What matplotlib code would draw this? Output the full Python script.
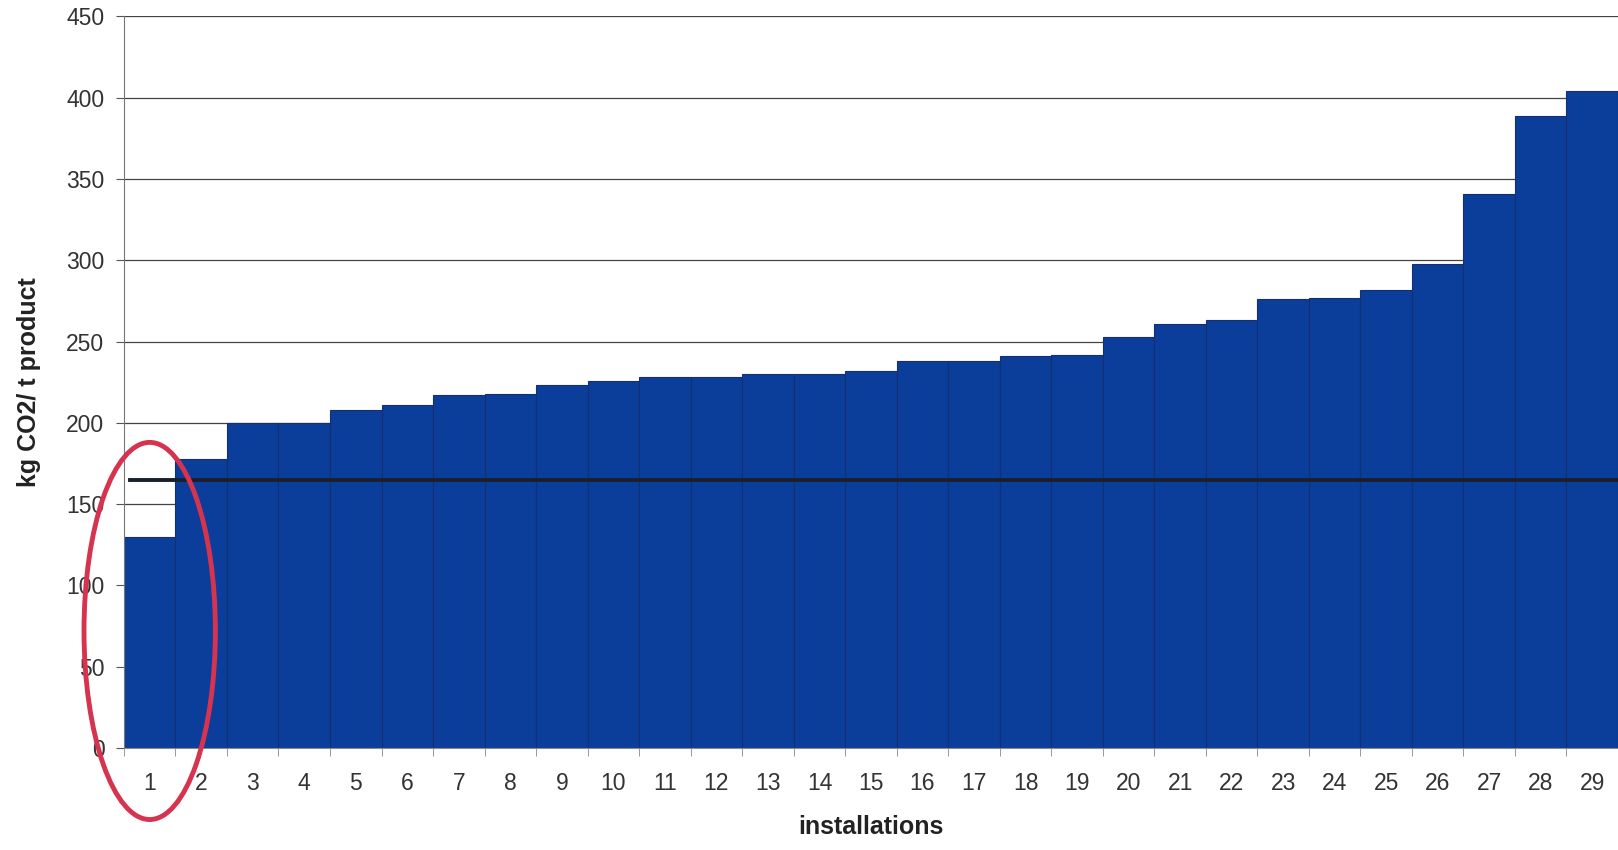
import numpy as np
import matplotlib.pyplot as plt
from matplotlib.patches import Ellipse

plt.rcParams['font.family'] = ['Liberation Sans', 'DejaVu Sans']

installations = list(range(1, 30))
emissions = [130, 178, 200, 200, 208, 211, 217, 218, 223, 226,
             228, 228, 230, 230, 232, 238, 238, 241, 242, 253,
             261, 263, 276, 277, 282, 298, 341, 389, 404]
benchmark = 165
y_ticks = [0, 50, 100, 150, 200, 250, 300, 350, 400, 450]

fig = plt.figure(figsize=(16.18, 8.5), dpi=100)
ax = fig.add_axes([0.0766, 0.12, 0.9234, 0.8606])

ax.bar(installations, emissions, width=1.0, color='#0b3d9a',
       edgecolor='#14306e', linewidth=0.8, zorder=2)

# benchmark line across all installations
ax.axhline(benchmark, xmin=0.004, xmax=1.0, color='#1a1f2e', linewidth=2.8, zorder=3)

ax.set_xlim(0.5, 29.5)
ax.set_ylim(0, 450)
ax.set_yticks(y_ticks)
ax.yaxis.grid(True, color='#444444', linewidth=0.9, zorder=0)
ax.set_axisbelow(True)

ax.set_xticks(installations)
ax.set_xticks(np.arange(0.5, 30, 1.0), minor=True)
ax.tick_params(axis='x', which='major', length=0, pad=17, labelsize=16.5, labelcolor='#333333')
ax.tick_params(axis='x', which='minor', length=6, color='#888888', direction='out')
ax.tick_params(axis='y', length=6, color='#555555', labelsize=16.5, labelcolor='#333333', pad=8)

for side in ['top', 'right']:
    ax.spines[side].set_visible(False)
ax.spines['left'].set_color('#777777')
ax.spines['bottom'].set_color('#888888')

ax.set_ylabel('kg CO2/ t product', fontsize=18, fontweight='bold', labelpad=18, color='#222222')
ax.set_xlabel('installations', fontsize=18, fontweight='bold', labelpad=15, color='#222222')

# highlight the first installation
ring = Ellipse((1.0, 72), width=2.55, height=232, fill=False,
               edgecolor='#d6334f', linewidth=3.5, clip_on=False, zorder=5)
ax.add_patch(ring)

fig.savefig('out.png', dpi=100)
